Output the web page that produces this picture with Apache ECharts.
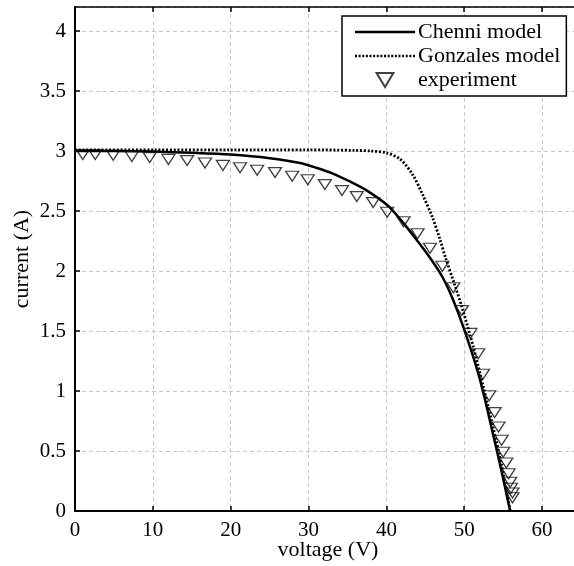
<!DOCTYPE html>
<html>
<head>
<meta charset="utf-8">
<script src="https://cdn.jsdelivr.net/npm/echarts@6/dist/echarts.min.js"></script>
<style>
html,body{margin:0;padding:0;background:#fff;}
#chart{width:574px;height:566px;}
</style>
</head>
<body>
<div id="chart"></div>
<script>
// Experimental points (voltage V, current A)
var expV = [1.0, 2.6, 4.9, 7.3, 9.6, 12.0, 14.4, 16.7, 19.0, 21.2, 23.4, 25.7, 27.9, 29.9, 32.1, 34.3, 36.2, 38.3, 40.1, 42.2, 44.0, 45.6, 47.2, 48.6, 49.7, 50.8, 51.8, 52.4, 53.2, 53.9, 54.4, 54.8, 55.0, 55.4, 55.7, 55.9, 56.0, 56.2, 56.2];
var expI = [2.97, 2.97, 2.965, 2.955, 2.945, 2.93, 2.92, 2.90, 2.88, 2.86, 2.84, 2.82, 2.79, 2.76, 2.72, 2.67, 2.62, 2.57, 2.49, 2.41, 2.31, 2.19, 2.04, 1.86, 1.67, 1.48, 1.31, 1.14, 0.96, 0.82, 0.70, 0.59, 0.49, 0.40, 0.31, 0.24, 0.19, 0.15, 0.11];

// Chenni model
var chenniV = [0, 5, 10, 15, 20, 25, 28.9, 31, 33.2, 35.5, 37.5, 40.1, 41.8, 44, 45.6, 47.2, 48.5, 49.9, 51.7, 52.7, 53.7, 54.8, 55.9];
var chenniI = [3.00, 3.00, 2.995, 2.985, 2.97, 2.94, 2.90, 2.86, 2.81, 2.74, 2.67, 2.55, 2.43, 2.25, 2.11, 1.95, 1.77, 1.53, 1.17, 0.92, 0.64, 0.33, 0];

// Gonzales model
var gonzV = [0, 10, 20, 30, 36, 38, 40, 41.8, 43.4, 44.7, 45.9, 46.9, 47.6, 48.7, 49.7, 51.2, 52.5, 53.7, 54.8, 55.9];
var gonzI = [3.01, 3.01, 3.01, 3.01, 3.005, 3.0, 2.985, 2.93, 2.80, 2.63, 2.45, 2.26, 2.11, 1.90, 1.70, 1.36, 1.02, 0.70, 0.38, 0];

var seriesNames = ['Chenni model', 'Gonzales model', 'experiment'];
var xTitle = 'voltage (V)';
var yTitle = 'current (A)';

function pairs(a, b) { return a.map(function (v, i) { return [v, b[i]]; }); }

// legend icon shapes
var FONT = 'Liberation Serif';
var TRI = 'path://M0,0 L12,0 L6,10 Z';
var SOLID_ICON = 'path://M0,0 L60,0 L60,2.5 L0,2.5 Z';
var DOT_ICON = (function () {
  var s = 'path://';
  for (var x = 0; x + 2 <= 60.01; x += 3.6) {
    s += 'M' + x.toFixed(2) + ',0 L' + (x + 2).toFixed(2) + ',0 L' + (x + 2).toFixed(2) + ',2.5 L' + x.toFixed(2) + ',2.5 Z ';
  }
  return s;
})();

var chart = echarts.init(document.getElementById('chart'));
chart.setOption({
  animation: false,
  backgroundColor: '#fff',
  textStyle: { fontFamily: FONT, color: '#000' },
  grid: { left: 75, right: -7, top: 7, bottom: 55, containLabel: false, outerBoundsMode: 'none' },
  legend: {
    orient: 'vertical',
    left: 342, top: 16,
    padding: [5, 6, 5, 13],
    itemGap: 2,
    itemWidth: 60, itemHeight: 14,
    backgroundColor: '#fff',
    borderColor: '#000', borderWidth: 1.5, borderRadius: 0,
    textStyle: { fontFamily: FONT, fontSize: 22, color: '#000', padding: [0, 0, 0, -2] },
    data: [
      { name: seriesNames[0], icon: SOLID_ICON, itemStyle: { color: '#000' } },
      { name: seriesNames[1], icon: DOT_ICON, itemStyle: { color: '#000' } },
      { name: seriesNames[2], icon: TRI }
    ]
  },
  xAxis: [{
    type: 'value', min: 0, max: 65, interval: 10,
    position: 'bottom',
    name: xTitle, nameLocation: 'middle', nameGap: 28, nameMoveOverlap: false,
    nameTextStyle: { fontFamily: FONT, fontSize: 22, color: '#000' },
    axisLine: { show: true, onZero: false, lineStyle: { color: '#000', width: 2 } },
    axisTick: { show: true, inside: true, length: 5, lineStyle: { color: '#000', width: 1.5 } },
    axisLabel: { fontFamily: FONT, fontSize: 21, color: '#000', margin: 9, showMaxLabel: false },
    splitLine: { show: true, lineStyle: { color: '#c8c8c8', type: [4, 3], width: 1 } }
  }, {
    type: 'value', min: 0, max: 65, interval: 10,
    position: 'top',
    axisLine: { show: true, onZero: false, lineStyle: { color: '#000', width: 1.5 } },
    axisTick: { show: true, inside: true, length: 5, lineStyle: { color: '#000', width: 1.5 } },
    axisLabel: { show: false },
    splitLine: { show: false }
  }],
  yAxis: [{
    type: 'value', min: 0, max: 4.2, interval: 0.5,
    name: yTitle, nameLocation: 'middle', nameGap: 42, nameRotate: 90, nameMoveOverlap: false,
    nameTextStyle: { fontFamily: FONT, fontSize: 22, color: '#000' },
    axisLine: { show: true, onZero: false, lineStyle: { color: '#000', width: 2 } },
    axisTick: { show: true, inside: true, length: 5, lineStyle: { color: '#000', width: 1.5 } },
    axisLabel: { fontFamily: FONT, fontSize: 21, color: '#000', margin: 9, showMaxLabel: false },
    splitLine: { show: true, lineStyle: { color: '#c8c8c8', type: [4, 3], width: 1 } }
  }],
  series: [{
    name: seriesNames[0], type: 'line',
    data: pairs(chenniV, chenniI),
    showSymbol: false, symbol: 'none',
    smooth: 0.3,
    lineStyle: { color: '#000', width: 2.5, type: 'solid' },
    itemStyle: { color: '#000' },
    z: 3
  }, {
    name: seriesNames[1], type: 'line',
    data: pairs(gonzV, gonzI),
    showSymbol: false, symbol: 'none',
    smooth: 0.3,
    lineStyle: { color: '#000', width: 2.8, type: [2, 1.8] },
    itemStyle: { color: '#000' },
    z: 3
  }, {
    name: seriesNames[2], type: 'scatter',
    data: pairs(expV, expI),
    symbol: TRI,
    symbolSize: [13, 10],
    itemStyle: { color: 'rgba(255,255,255,0)', borderColor: '#111', borderWidth: 1.3 },
    z: 4
  }]
});
</script>
</body>
</html>
